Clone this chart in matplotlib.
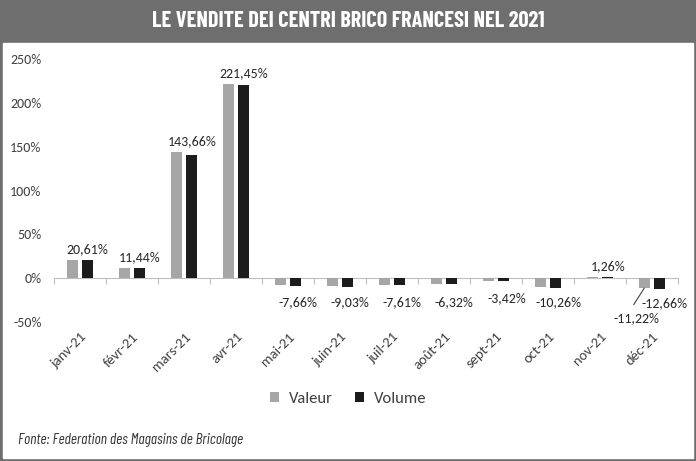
import numpy as np
import matplotlib.pyplot as plt
from matplotlib.patches import Rectangle

# Data
months = ['janv-21', 'févr-21', 'mars-21', 'avr-21', 'mai-21', 'juin-21',
          'juil-21', 'août-21', 'sept-21', 'oct-21', 'nov-21', 'déc-21']
valeur = [20.61, 11.44, 143.66, 221.45, -7.66, -9.03, -7.61, -6.32, -3.42, -10.26, 1.26, -11.22]
volume = [20.4, 11.2, 140.5, 220.0, -8.5, -10.0, -8.2, -6.8, -3.6, -11.5, 0.8, -12.66]
labels = ['20,61%', '11,44%', '143,66%', '221,45%', '-7,66%', '-9,03%',
          '-7,61%', '-6,32%', '-3,42%', '-10,26%', '1,26%', '-11,22%']
yticks = [-50, 0, 50, 100, 150, 200, 250]

plt.rcParams['font.family'] = ['Carlito', 'DejaVu Sans']

W, H = 696, 461
fig = plt.figure(figsize=(W / 100, H / 100), dpi=100)
border = '#6e6e6e'

# Frame and header band
fig.patches.append(Rectangle((0, 0), 1, 1, transform=fig.transFigure, color=border, zorder=-2))
fig.patches.append(Rectangle((3 / W, 3 / H), (W - 6) / W, (H - 3 - 43) / H,
                             transform=fig.transFigure, color='white', zorder=-1))
fig.text(0.5, 1 - 21 / H, 'LE VENDITE DEI CENTRI BRICO FRANCESI NEL 2021',
         ha='center', va='center', color='white', fontsize=16, fontweight='bold',
         family=['Barlow Condensed', 'DejaVu Sans'])

ax = fig.add_axes([54 / W, 1 - 322 / H, 624 / W, (322 - 59) / H])
ax.set_facecolor('none')
x = np.arange(len(months))
w = 0.21
ax.bar(x - 0.145, valeur, w, color='#a6a6a6', label='Valeur')
ax.bar(x + 0.145, volume, w, color='#1c1c1c', label='Volume')

ax.set_xlim(-0.5, len(months) - 0.5)
ax.set_ylim(-50, 250)
ax.set_yticks(yticks)
ax.set_yticklabels([f'{t}%' for t in yticks], fontsize=10, color='#404040')
ax.tick_params(axis='y', length=0, pad=9)
ax.set_xticks(x)
ax.set_xticklabels(months, rotation=45, ha='right', rotation_mode='anchor',
                   fontsize=10.5, color='#404040')
ax.tick_params(axis='x', which='major', length=0, pad=6)
for s in ['top', 'right', 'left', 'bottom']:
    ax.spines[s].set_visible(False)

# zero line with small category separators
zero = ax.secondary_xaxis(50 / 300)
zero.set_xticks(np.arange(-0.5, len(months)))
zero.tick_params(axis='x', length=4, color='#bfbfbf', labelbottom=False)
zero.spines['bottom'].set_color('#bfbfbf')

# Data labels
for i, (v, lab) in enumerate(zip(valeur, labels)):
    if i == 11:
        continue
    if v > 0:
        ax.text(i + 0.15, v + 6, lab, ha='center', va='bottom', fontsize=10, color='#262626')
    else:
        y = -27 if i != 8 else -23
        ax.text(i + 0.2, y, lab, ha='center', va='center', fontsize=10, color='#262626')
# December labels with leader line
ax.text(11.25, -28, '-12,66%', ha='center', va='center', fontsize=10, color='#262626')
ax.text(10.7, -46, '-11,22%', ha='center', va='center', fontsize=10, color='#262626')
ax.plot([10.85, 10.65], [-11.5, -30], color='#404040', lw=0.8)

fig.legend(loc='center', bbox_to_anchor=(0.5, 1 - 399 / H), ncol=2, frameon=False,
           fontsize=12, handlelength=0.55, handleheight=0.55, handletextpad=0.6,
           columnspacing=1.3, labelcolor='#404040')

fig.text(18 / W, 1 - 440 / H, 'Fonte: Federation des Magasins de Bricolage',
         ha='left', va='center', fontsize=11, style='italic', color='#333333',
         family=['Barlow Condensed', 'DejaVu Sans'])

fig.savefig('out.png', dpi=100)
